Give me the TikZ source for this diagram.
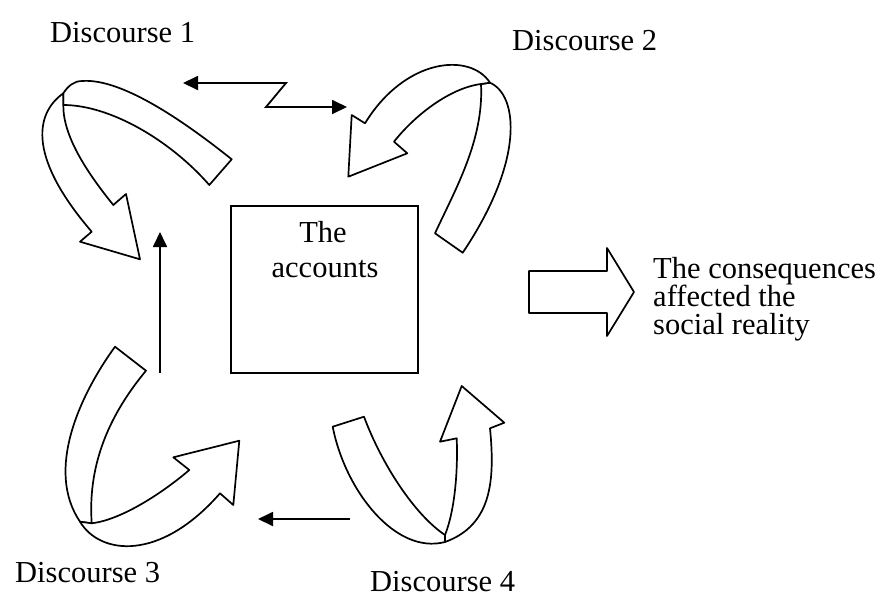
\documentclass[tikz,border=0pt]{standalone}
\usepackage{fontspec}
\setmainfont{Liberation Serif}
\usetikzlibrary{arrows.meta}
\begin{document}
\begin{tikzpicture}[x=1pt,y=-1pt,
  >={Triangle[length=15pt,width=14pt]},
  ribbon/.style={draw=black, fill=white, line width=1.7pt, line join=round},
  link/.style={draw=black, line width=1.8pt},
  label/.style={inner sep=0pt, anchor=base west, font=\fontsize{30.5}{35}\selectfont},
]
\useasboundingbox (0,0) rectangle (885,598);

% discourse labels
\node[label] (d1) at (50,42) {Discourse 1};
\node[label] (d2) at (512,50) {Discourse 2};
\node[label] (d3) at (15,582) {Discourse 3};
\node[label] (d4) at (370,591) {Discourse 4};

% the accounts
\node[draw, line width=1.8pt, minimum width=187pt, minimum height=167pt, inner sep=0pt] (box) at (324.5,289.5) {};
\node[label, anchor=base] (acc1) at (323,242) {The};
\node[label, anchor=base] (acc2) at (325,277) {accounts};

% consequences
\node[label] (c1) at (653,278) {The consequences};
\node[label] (c2) at (653,306) {affected the};
\node[label] (c3) at (653,334) {social reality};
\draw[ribbon] (529,271) -- (607,271) -- (607,248) -- (634,292) -- (607,336) -- (607,313) -- (529,313) -- cycle;

% connectors between the discourses
\coordinate (z1) at (183,83);
\coordinate (z2) at (286,83);
\coordinate (z3) at (266,107);
\coordinate (z4) at (347,107);
\draw[link, <->] (z1) -- (z2) -- (z3) -- (z4);

\coordinate (v1) at (160,373);
\coordinate (v2) at (160,232);
\draw[link, ->] (v1) -- (v2);

\coordinate (h1) at (350,519);
\coordinate (h2) at (258,519);
\draw[link, ->] (h1) -- (h2);

% discourse 1: twisted ribbon arrow
\draw[ribbon] (231.7,159.3) .. controls (180,118) and (120,78) .. (82,81)
  .. controls (74,81) and (68,86) .. (63.3,93.3) -- (63.3,105)
  .. controls (110,105) and (170,140) .. (209.3,185) -- cycle;
\draw[ribbon] (63.3,93.3) .. controls (33,115) and (30,160) .. (91.7,231.7)
  -- (80,241.7) -- (140,259.3) -- (126,194) -- (113.3,205)
  .. controls (85,170) and (63,135) .. (63.3,105) -- cycle;

% discourse 2
\draw[ribbon] (435,233.3) .. controls (455,190) and (484,140) .. (481,84)
  -- (490,82.7) .. controls (518,95) and (525,160) .. (462.7,252.7) -- cycle;
\draw[ribbon] (490,82.7) .. controls (470,52) and (405,58) .. (365,123.3)
  -- (351.7,115) -- (348.3,176.7) -- (407.3,153.3) -- (394,141.7)
  .. controls (415,115) and (450,88) .. (481,84) -- cycle;

% discourse 3
\draw[ribbon] (115,346.7) .. controls (80,395) and (45,470) .. (80,521.7)
  -- (91.7,523.3) .. controls (88,470) and (105,420) .. (146,370.7) -- cycle;
\draw[ribbon] (80,521.7) .. controls (100,555) and (160,562) .. (220,493.3)
  -- (233.3,505) -- (239.3,440.7) -- (173.3,457.3) -- (189.3,470)
  .. controls (160,495) and (120,520) .. (91.7,523.3) -- cycle;

% discourse 4
\draw[ribbon] (332.7,426.7) .. controls (345,490) and (395,555) .. (445,542)
  -- (445,535) .. controls (415,515) and (382,465) .. (364,416.7) -- cycle;
\draw[ribbon] (445,535) .. controls (455,510) and (458,470) .. (456.7,438.3)
  -- (440,441.7) -- (461.7,386) -- (504.3,422.7) -- (490,428.3)
  .. controls (495,480) and (492,525) .. (445,542) -- cycle;
\end{tikzpicture}
\end{document}
